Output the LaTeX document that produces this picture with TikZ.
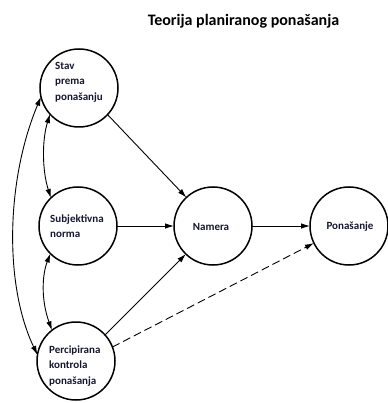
\documentclass[tikz,border=0pt]{standalone}
\usepackage{fontspec}
\setmainfont{Carlito}
\usetikzlibrary{arrows.meta}
\definecolor{txt}{RGB}{22,22,48}
\tikzset{
  circ/.style={circle, draw, line width=1.5pt, minimum size=78pt, inner sep=0pt, outer sep=0pt},
  lbl/.style={font=\bfseries\fontsize{11}{15.5}\selectfont, text=txt, align=left, inner sep=0pt},
  conn/.style={line width=0.9pt, -{Latex[length=9pt,width=5.5pt]}},
  biconn/.style={line width=0.9pt, {Latex[length=9pt,width=5.5pt]}-{Latex[length=9pt,width=5.5pt]}},
  dashconn/.style={conn, dash pattern=on 8pt off 4pt}
}
\begin{document}
\begin{tikzpicture}[x=1pt,y=-1pt]
\useasboundingbox (0,0) rectangle (387,403);
\node[font=\bfseries\fontsize{16}{19}\selectfont, inner sep=0pt] (title) at (243.5,21) {Teorija planiranog ponašanja};

\node[circ] (stav) at (79,88) {};
\node[circ] (subj) at (78,226) {};
\node[circ] (perc) at (76,361) {};
\node[circ] (nam) at (213,226) {};
\node[circ] (pon) at (349,226) {};

\node[lbl, anchor=west] (stavT) at (55,82) {Stav\\prema\\ponašanju};
\node[lbl, anchor=west] (subjT) at (50,226) {Subjektivna\\norma};
\node[lbl, anchor=west] (percT) at (49,366) {Percipirana\\kontrola\\ponašanja};
\node[lbl] (namT) at (211,227) {Namera};
\node[lbl] (ponT) at (350,227) {Ponašanje};

\draw[conn] (stav.-43) -- (nam.133);
\draw[conn] (subj) -- (nam);
\draw[conn] (perc.42) -- (nam.226);
\draw[conn] (nam) -- (pon);
\draw[dashconn] (perc.21) -- (pon.206);

\draw[biconn] (stav.222) .. controls (42,140) and (42,170) .. (subj.134);
\draw[biconn] (subj.225) .. controls (42,275) and (41,300) .. (perc.128);
\draw[biconn] (stav.193) .. controls (6,180) and (4,285) .. (perc.171);
\end{tikzpicture}
\end{document}
